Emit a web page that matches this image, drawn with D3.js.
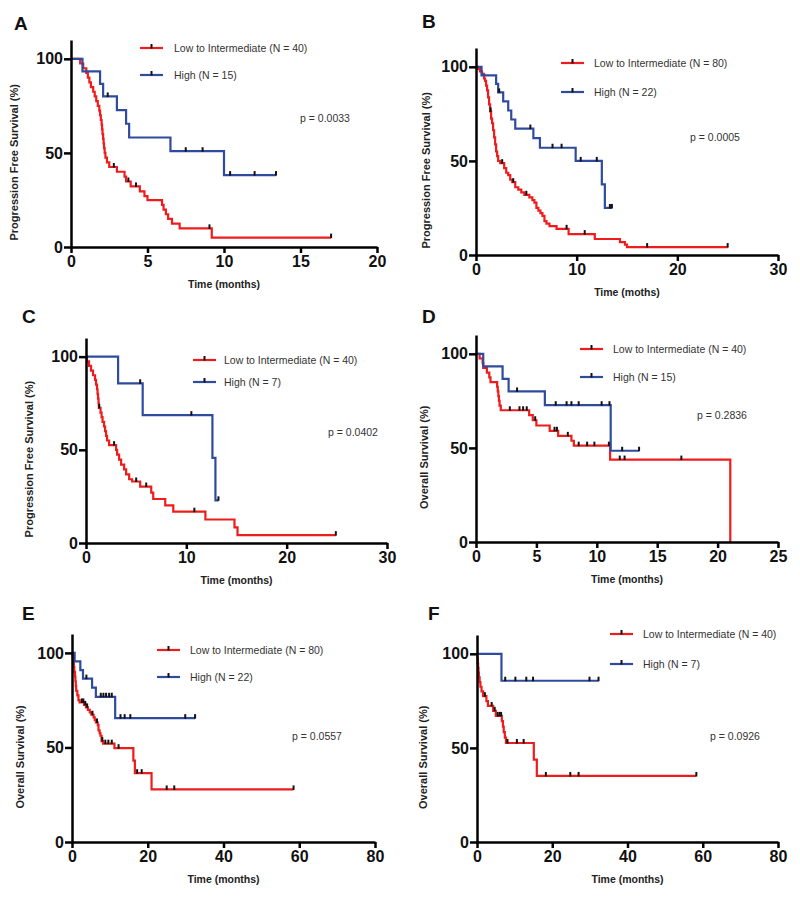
<!DOCTYPE html>
<html>
<head>
<meta charset="utf-8">
<script src="https://cdn.jsdelivr.net/npm/d3@7"></script>
<style>
  html, body { margin: 0; padding: 0; background: #fff; }
  svg { display: block; font-family: "Liberation Sans", Arial, sans-serif; }
</style>
</head>
<body>
<svg id="chart" width="800" height="898"></svg>
<script>
// ---------------- DATA ----------------
const panelLetters = ["A", "B", "C", "D", "E", "F"];
const yTitles = ["Progression Free Survival (%)", "Progression Free Survival (%)", "Progression Free Survival (%)",
                 "Overall Survival (%)", "Overall Survival (%)", "Overall Survival (%)"];
const xTitles = ["Time (months)", "Time (moths)", "Time (months)", "Time (months)", "Time (months)", "Time (months)"];
const xMaxes = [20, 30, 30, 25, 80, 80];
const xTickSteps = [5, 10, 10, 5, 20, 20];
const yTickValues = [0, 50, 100];
const lowLabels = ["Low to Intermediate (N = 40)", "Low to Intermediate (N = 80)", "Low to Intermediate (N = 40)",
                   "Low to Intermediate (N = 40)", "Low to Intermediate (N = 80)", "Low to Intermediate (N = 40)"];
const highLabels = ["High (N = 15)", "High (N = 22)", "High (N = 7)", "High (N = 15)", "High (N = 22)", "High (N = 7)"];
const pValues = ["p = 0.0033", "p = 0.0005", "p = 0.0402", "p = 0.2836", "p = 0.0557", "p = 0.0926"];

// step points [time, survival %] and censor times
const A_lowSteps = [[0,100],[0.6,97.5],[0.8,95],[1.0,92.5],[1.1,90],[1.2,87.5],[1.3,85],[1.45,82.5],[1.55,80],[1.65,77.5],[1.75,75],[1.85,72.5],[1.9,70],[1.95,67.5],[2.0,65],[2.03,62.5],[2.06,60],[2.1,57.5],[2.13,55],[2.16,52.5],[2.2,50],[2.25,47.5],[2.35,45],[2.5,42.5],[3.0,40],[3.5,37.4],[3.6,34.8],[3.9,32.2],[4.5,29.6],[4.8,27],[5.0,24.9],[5.95,22.4],[6.05,19.9],[6.2,17.4],[6.35,14.9],[6.6,12.4],[7.1,9.9],[9.2,5]];
const A_lowCensor = [2.8, 3.75, 4.25, 9.05, 17];
const A_highSteps = [[0,100],[0.75,93.3],[1.9,86.7],[2.1,80],[3.0,72.7],[3.6,65.5],[3.8,58.2],[6.5,50.9],[10.0,38.2]];
const A_highCensor = [2.4, 7.5, 8.6, 10.4, 12.0, 13.4];

const B_lowSteps = [[0,100],[0.2,98.8],[0.4,97.5],[0.6,96.3],[0.8,93.8],[0.9,92.5],[1.0,90],[1.1,87.5],[1.2,83.8],[1.3,80],[1.4,76.3],[1.5,72.5],[1.6,70],[1.7,66.3],[1.8,62.5],[1.9,58.8],[2.0,55],[2.1,52.5],[2.2,50],[2.4,48.8],[2.8,46.2],[3.0,43.7],[3.2,42.4],[3.4,40],[3.6,38.7],[3.9,36],[4.2,34.7],[4.5,33.3],[4.8,32],[5.3,30.6],[5.6,29.2],[5.8,27.8],[6.0,25],[6.2,23.6],[6.4,22.2],[6.6,20.8],[6.8,18],[7.0,16.7],[7.3,15.3],[8.0,13.9],[9.2,11.1],[11.8,8.5],[14.3,6.8],[14.8,5.5],[15.0,4.2]];
const B_lowCensor = [1.45, 2.6, 3.7, 5.0, 9.0, 10.8, 17.0, 25.0];
const B_highSteps = [[0,100],[0.55,95.5],[2.0,90.9],[2.2,86.4],[2.7,81.6],[3.2,76.8],[3.5,72],[3.9,67.2],[5.7,62.1],[6.35,57],[9.9,50],[12.5,37.5],[12.8,25]];
const B_highCensor = [2.3, 5.4, 7.6, 8.5, 10.4, 12.0, 13.3, 13.5];

const C_lowSteps = [[0,100],[0.1,97.5],[0.3,95],[0.5,92.5],[0.7,90],[0.9,87.5],[1.0,85],[1.1,82.5],[1.15,80],[1.2,77.5],[1.25,75],[1.28,72.5],[1.45,70],[1.55,67.5],[1.65,65],[1.8,62.5],[1.9,60],[2.0,57.5],[2.1,55],[2.3,52.5],[3.0,50],[3.1,47.4],[3.3,44.7],[3.5,42.1],[3.8,39.5],[4.0,36.8],[4.3,34.2],[4.6,33],[5.4,30.3],[6.5,27],[6.7,23.6],[7.9,20.2],[8.7,16.8],[11.9,12.6],[14.8,8.4],[15.1,4.2]];
const C_lowCensor = [1.32, 2.8, 5.0, 6.0, 10.8, 24.9];
const C_highSteps = [[0,100],[3.2,85.7],[5.65,68.6],[12.6,45.7],[12.9,22.9]];
const C_highCensor = [5.4, 10.5, 13.2];

const D_lowSteps = [[0,100],[0.3,97.5],[0.55,95],[0.6,92.5],[0.9,90],[1.1,87.5],[1.2,85],[1.75,82.5],[1.8,80],[1.85,77.5],[1.9,75],[1.95,72.5],[2.05,70],[4.4,67.4],[4.7,64.7],[5.0,61.9],[6.1,59.1],[6.8,56.4],[7.9,53.8],[8.1,51.2],[11.1,43.8],[21.05,0]];
const D_lowCensor = [2.8, 3.6, 3.9, 4.2, 4.9, 6.5, 6.7, 7.6, 8.5, 9.2, 9.8, 11.0, 11.9, 12.3, 17.0];
const D_highSteps = [[0,100],[0.6,93.3],[2.2,86.7],[2.7,80],[5.7,72.7],[11.15,48.5]];
const D_highCensor = [3.4, 6.6, 7.5, 7.9, 8.5, 10.4, 11.05, 12.1, 13.5];

const E_lowSteps = [[0,100],[0.2,97.5],[0.4,95],[0.5,92.5],[0.6,90],[0.8,87.5],[0.9,85],[1.0,82.5],[1.1,80],[1.4,77.5],[1.7,75],[2.0,73.8],[3.2,72.5],[3.7,71.2],[4.2,69.9],[4.7,68.6],[5.1,67.3],[5.7,65.9],[6.0,64.6],[6.3,63.2],[6.8,61.8],[7.0,59],[7.3,57.6],[7.5,56.2],[7.8,53.4],[8.2,52],[11.2,49.6],[16.2,43],[16.6,36.4],[21,27.8]];
const E_lowCensor = [2.6, 3.0, 3.5, 4.0, 5.4, 6.6, 8.0, 8.8, 9.6, 10.5, 12.3, 17.2, 18.4, 25, 27, 58.5];
const E_highSteps = [[0,100],[0.7,95.5],[2.2,90.9],[2.9,86.4],[5.3,81.6],[6.3,76.8],[11.4,65.5]];
const E_highCensor = [3.8, 7.6, 8.3, 9.0, 9.8, 10.5, 12.8, 13.9, 15.4, 29.9, 32.5];

const F_lowSteps = [[0,100],[0.1,97.5],[0.2,95],[0.3,92.5],[0.4,90],[0.5,87.5],[0.7,85],[0.9,82.5],[1.2,80],[1.6,77.5],[2.5,74.9],[2.9,72.3],[4.3,69.7],[5.0,67],[6.6,64.2],[6.9,61.3],[7.1,58.4],[7.4,55.5],[7.7,52.6],[15.1,43.8],[15.9,35.1]];
const F_lowCensor = [2.1, 3.9, 4.7, 5.5, 6.0, 6.4, 8.1, 10.6, 12.4, 18.3, 24.8, 27, 58.3];
const F_highSteps = [[0,100],[6.5,85.7]];
const F_highCensor = [7.5, 10.2, 13.1, 14.9, 29.9, 32.3];

const lowSteps = [A_lowSteps, B_lowSteps, C_lowSteps, D_lowSteps, E_lowSteps, F_lowSteps];
const lowCensors = [A_lowCensor, B_lowCensor, C_lowCensor, D_lowCensor, E_lowCensor, F_lowCensor];
const highSteps = [A_highSteps, B_highSteps, C_highSteps, D_highSteps, E_highSteps, F_highSteps];
const highCensors = [A_highCensor, B_highCensor, C_highCensor, D_highCensor, E_highCensor, F_highCensor];

// ---------------- LAYOUT (positions only) ----------------
const layout = [
  {x0:71,  x1:377, y0:247, yTop:40,  letter:[14,30],  yTitleX:14,  legend:[140,48],  legGap:27, legText:34, p:[300,118]},
  {x0:476, x1:778, y0:255, yTop:48,  letter:[422,28], yTitleX:426, legend:[561,63],  legGap:29, legText:33, p:[690,137]},
  {x0:86,  x1:387, y0:543, yTop:338, letter:[22,323], yTitleX:29,  legend:[193,360], legGap:22, legText:31, p:[328,432]},
  {x0:476, x1:778, y0:542, yTop:335, letter:[422,323],yTitleX:424, legend:[580,349], legGap:28, legText:33, p:[697,415]},
  {x0:72,  x1:375, y0:842, yTop:634, letter:[22,620], yTitleX:20,  legend:[157,650], legGap:27, legText:33, p:[292,736]},
  {x0:477, x1:778, y0:842, yTop:635, letter:[428,620],yTitleX:423, legend:[610,634], legGap:30, legText:33, p:[710,736]}
];
const RED = "#ee1c1c", BLUE = "#2f4b9e";

const svg = d3.select("#chart");

function survAt(steps, t) {
  let s = steps[0][1];
  for (const d of steps) { if (d[0] <= t) s = d[1]; }
  return s;
}

panelLetters.forEach((letter, i) => {
  const L = layout[i];
  const x = d3.scaleLinear().domain([0, xMaxes[i]]).range([L.x0, L.x1]);
  const y = d3.scaleLinear().domain([0, 110]).range([L.y0, L.yTop]);
  const g = svg.append("g");

  // panel letter
  g.append("text").attr("x", L.letter[0]).attr("y", L.letter[1])
    .attr("font-size", 19).attr("font-weight", "bold").attr("fill", "#111").text(letter);

  // curves
  const line = d3.line().curve(d3.curveStepAfter).x(d => x(d[0])).y(d => y(d[1]));
  const series = [
    {steps: lowSteps[i], censor: lowCensors[i], color: RED},
    {steps: highSteps[i], censor: highCensors[i], color: BLUE}
  ];
  series.forEach(s => {
    const last = s.steps[s.steps.length - 1];
    const end = Math.max(last[0], d3.max(s.censor));
    const pts = s.steps.concat([[end, last[1]]]);
    g.append("path").attr("d", line(pts)).attr("fill", "none")
      .attr("stroke", s.color).attr("stroke-width", 2.2);
  });
  series.forEach(s => {
    g.selectAll(null).data(s.censor).enter().append("line")
      .attr("x1", t => x(t)).attr("x2", t => x(t))
      .attr("y1", t => y(survAt(s.steps, t)) + 0.5)
      .attr("y2", t => y(survAt(s.steps, t)) - 4)
      .attr("stroke", "#111").attr("stroke-width", 2);
  });

  // axes
  const xTicks = d3.range(0, xMaxes[i] + 0.001, xTickSteps[i]);
  const xAxis = d3.axisBottom(x).tickValues(xTicks).tickFormat(d3.format("d"))
    .tickSize(6).tickSizeOuter(0).tickPadding(3);
  const yAxis = d3.axisLeft(y).tickValues(yTickValues).tickFormat(d3.format("d"))
    .tickSize(7).tickSizeOuter(0).tickPadding(1);
  const gx = g.append("g").attr("transform", `translate(0,${L.y0})`).call(xAxis);
  const gy = g.append("g").attr("transform", `translate(${L.x0},0)`).call(yAxis);
  [gx, gy].forEach(a => {
    a.selectAll("path.domain").attr("stroke", "#000").attr("stroke-width", 2.5);
    a.selectAll(".tick line").attr("stroke", "#000").attr("stroke-width", 2.5);
    a.selectAll(".tick text").attr("font-size", 16).attr("font-weight", "bold")
      .attr("fill", "#111").attr("font-family", "'Liberation Sans', Arial, sans-serif");
  });

  // axis titles
  g.append("text").attr("x", (L.x0 + L.x1) / 2).attr("y", L.y0 + 41)
    .attr("text-anchor", "middle").attr("font-size", 10.5).attr("font-weight", "bold")
    .attr("fill", "#222").text(xTitles[i]);
  g.append("text").attr("transform", `translate(${L.yTitleX + 4},${y(45)}) rotate(-90)`)
    .attr("text-anchor", "middle").attr("font-size", 11).attr("font-weight", "bold")
    .attr("fill", "#222").text(yTitles[i]);

  // legend
  const legItems = [{label: lowLabels[i], color: RED}, {label: highLabels[i], color: BLUE}];
  legItems.forEach((it, k) => {
    const ly = L.legend[1] + k * L.legGap;
    g.append("line").attr("x1", L.legend[0]).attr("x2", L.legend[0] + 23)
      .attr("y1", ly).attr("y2", ly).attr("stroke", it.color).attr("stroke-width", 2.2);
    g.append("line").attr("x1", L.legend[0] + 11.5).attr("x2", L.legend[0] + 11.5)
      .attr("y1", ly + 0.5).attr("y2", ly - 4).attr("stroke", "#111").attr("stroke-width", 2);
    g.append("text").attr("x", L.legend[0] + L.legText).attr("y", ly + 4)
      .attr("font-size", 10.5).attr("fill", "#333").text(it.label);
  });

  // p value
  g.append("text").attr("x", L.p[0]).attr("y", L.p[1] + 4)
    .attr("font-size", 10.5).attr("fill", "#333").text(pValues[i]);
});
</script>
</body>
</html>
